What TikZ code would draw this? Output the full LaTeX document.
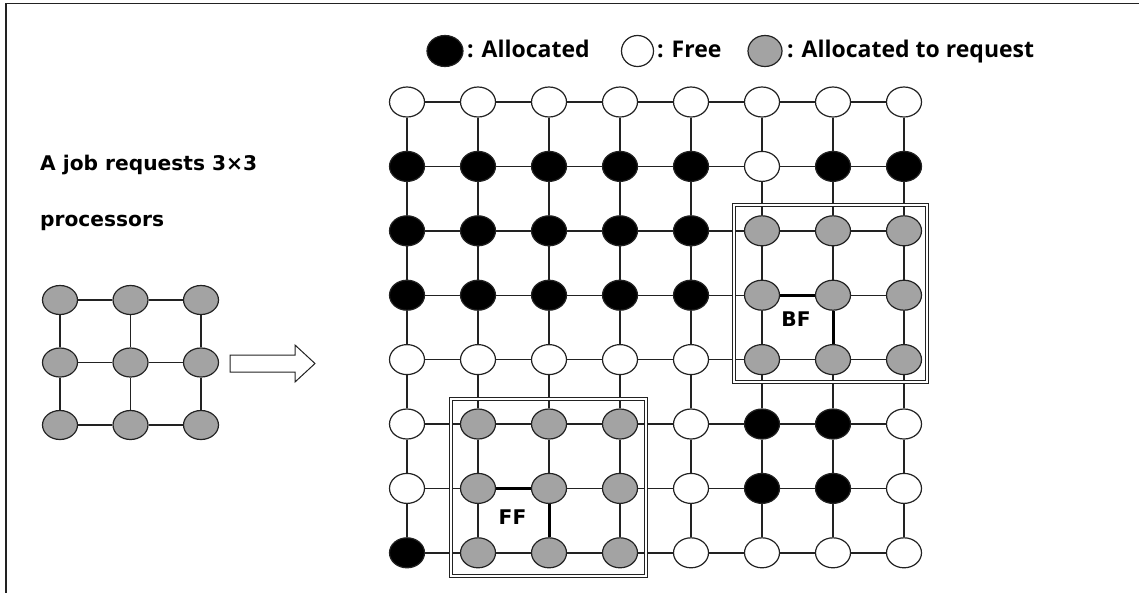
\documentclass[tikz,border=0pt]{standalone}
\usepackage{fontspec}
\setmainfont{DejaVu Sans}
\newfontfamily\keyfont{Open Sans}
\usepackage{tikz}
\usetikzlibrary{shapes.geometric}
\definecolor{reqgray}{HTML}{A3A3A3}
\definecolor{linegray}{HTML}{222222}
\colorlet{al}{black}
\colorlet{fr}{white}
\colorlet{rq}{reqgray}

\begin{document}
\begin{tikzpicture}[x=1pt,y=-1pt]
      \tikzset{proc/.style={ellipse,draw=linegray,line width=1.2pt,minimum width=35pt,minimum height=30pt,inner sep=0pt},
        link/.style={draw=linegray,line width=1.4pt},
        fitlink/.style={draw=black,line width=3pt},
        region/.style={draw=linegray,double=white,double distance=2.6pt,line width=0.9pt},
        caption/.style={font=\bfseries\fontsize{20.2}{24}\selectfont,inner sep=0pt,anchor=base west},
        keytext/.style={font=\keyfont\bfseries\fontsize{23}{27}\selectfont,inner sep=0pt,anchor=base west}}
      \useasboundingbox (0,0) rectangle (1139,592);
      \clip (0,0) rectangle (1139,592);
      \draw[line width=1.8pt,draw=linegray] (6,3.5) rectangle (1160,620);
      % legend
      \node[proc,fill=al,minimum width=36pt,minimum height=31pt] (kal) at (445,51) {};
      \node[keytext] (tal) at (467,57.5) {: Allocated};
      \node[proc,fill=fr,minimum width=32pt,minimum height=31pt] (kfr) at (637.5,51) {};
      \node[keytext] (tfr) at (657,57.5) {: Free};
      \node[proc,fill=rq,minimum width=34pt,minimum height=31pt] (krq) at (765,51) {};
      \node[keytext] (trq) at (787,57.5) {: Allocated to request};
      % request
      \node[caption] (job) at (40,170.5) {A job requests 3×3};
      \node[caption] (procs) at (40,226) {processors};
      \foreach \r in {0,1,2}
        \foreach \c in {0,1,2}
          \node[proc,fill=rq,minimum height=29pt] (m-\r-\c) at (60+70.5*\c,300+62.5*\r) {};
      \foreach \r in {0,1,2}
        \foreach \c [count=\n] in {0,1}
          {\draw[link] (m-\r-\c) -- (m-\r-\n);
           \draw[link] (m-\c-\r) -- (m-\n-\r);}
      \draw[link,fill=white,line width=1pt] (230,355) -- (295,355) -- (295,345) -- (315,363.5)
        -- (295,382) -- (295,372) -- (230,372) -- cycle;
      % mesh
      \foreach \r/\row in {0/{fr,fr,fr,fr,fr,fr,fr,fr},
                           1/{al,al,al,al,al,fr,al,al},
                           2/{al,al,al,al,al,rq,rq,rq},
                           3/{al,al,al,al,al,rq,rq,rq},
                           4/{fr,fr,fr,fr,fr,rq,rq,rq},
                           5/{fr,rq,rq,rq,fr,al,al,fr},
                           6/{fr,rq,rq,rq,fr,al,al,fr},
                           7/{al,rq,rq,rq,fr,fr,fr,fr}}
        \foreach \f [count=\c from 0] in \row
          \node[proc,fill=\f] (n-\r-\c) at (407+71*\c,102+64.4*\r) {};
      \foreach \r in {0,...,7}
        \foreach \c [count=\n] in {0,...,6}
          {\draw[link] (n-\r-\c) -- (n-\r-\n);
           \draw[link] (n-\c-\r) -- (n-\n-\r);}
      \draw[region] (734,205) rectangle (927,382);
      \draw[region] (451,399) rectangle (646,576);
      \draw[fitlink] (n-3-5) -- (n-3-6);
      \draw[fitlink] (n-3-6) -- (n-4-6);
      \draw[fitlink] (n-6-1) -- (n-6-2);
      \draw[fitlink] (n-6-2) -- (n-7-2);
      \node[caption,anchor=base] (bf) at (796,326.5) {BF};
      \node[caption,anchor=base] (ff) at (512.5,524) {FF};
    \end{tikzpicture}
\end{document}
